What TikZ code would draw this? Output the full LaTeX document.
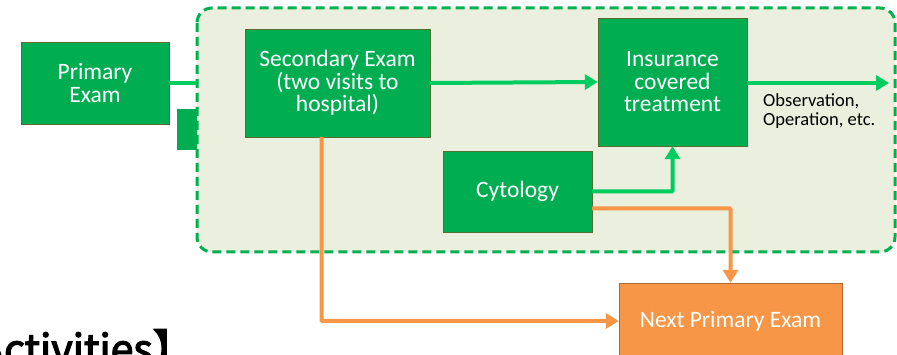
\documentclass[tikz,border=0pt]{standalone}
\usepackage{fontspec}
\setmainfont{Carlito}
\newfontfamily\cjk[FakeBold=3]{Noto Sans CJK JP}
\usepackage{tikz}
\usetikzlibrary{arrows.meta}
\definecolor{boxgreen}{RGB}{0,173,80}
\definecolor{rimgreen}{RGB}{84,110,50}
\definecolor{flowgreen}{RGB}{0,204,96}
\definecolor{dashgreen}{RGB}{0,176,80}
\definecolor{areafill}{RGB}{235,239,222}
\definecolor{nextorange}{RGB}{247,150,70}

\begin{document}
\begin{tikzpicture}[x=1pt,y=-1pt,>={Triangle[length=13pt,width=15pt]},
            exam/.style={draw=rimgreen,fill=boxgreen,text=white,align=center,
              inner sep=0pt,font=\fontsize{23.5}{22.5}\selectfont},
            go/.style={->,draw=flowgreen,line width=4pt},
            back/.style={->,draw=nextorange,line width=4pt}]

          \useasboundingbox (0,0) rectangle (897,355);
          \clip (0,0) rectangle (897,355);

          \node[exam,minimum width=148pt,minimum height=82pt] (primary) at (95,83) {Primary\\Exam};
          \node[fill=boxgreen,minimum width=21pt,minimum height=41pt,inner sep=0pt] (stub) at (187.5,129.5) {};

          % care area
          \draw[dashgreen,fill=areafill,line width=3pt,dash pattern=on 9pt off 5pt,
                rounded corners=15pt] (197,8) rectangle (895,252);

          \node[exam,minimum width=185pt,minimum height=108pt] (second) at (337.5,83) {Secondary Exam\\(two visits to\\hospital)};
          \node[exam,minimum width=149pt,minimum height=128pt] (treat) at (672.5,82) {Insurance\\covered\\treatment};
          \node[exam,minimum width=149pt,minimum height=81pt] (cyto) at (517.5,191.5) {Cytology};
          \node[exam,draw=nextorange!70!black,fill=nextorange,minimum width=223pt,minimum height=76pt] (next) at (730.5,321) {Next Primary Exam};

          \coordinate (entry) at (197,83);
          \coordinate (exit) at (889,83);

          \node[anchor=west,align=left,inner sep=0pt,font=\fontsize{18.5}{19}\selectfont] (note) at (763,111) {Observation,\\Operation, etc.};
          \node[anchor=base west,inner sep=0pt,font=\cjk\fontsize{41}{44}\selectfont] (title) at (-21,364) {Activities】};

          \draw[flowgreen,line width=4pt] (primary.east) -- (entry);
          \draw[go] (second.east) -- (treat.west);
          \draw[go] (treat.east |- exit) -- (exit);
          \draw[go,rounded corners=1pt] (cyto.east) -| (treat.south);
          \draw[back,rounded corners=1pt] ([yshift=-17pt]cyto.east) -| (next.north);
          \draw[back,rounded corners=1pt] ([xshift=-16pt]second.south) |- (next.west);
        \end{tikzpicture}
\end{document}
